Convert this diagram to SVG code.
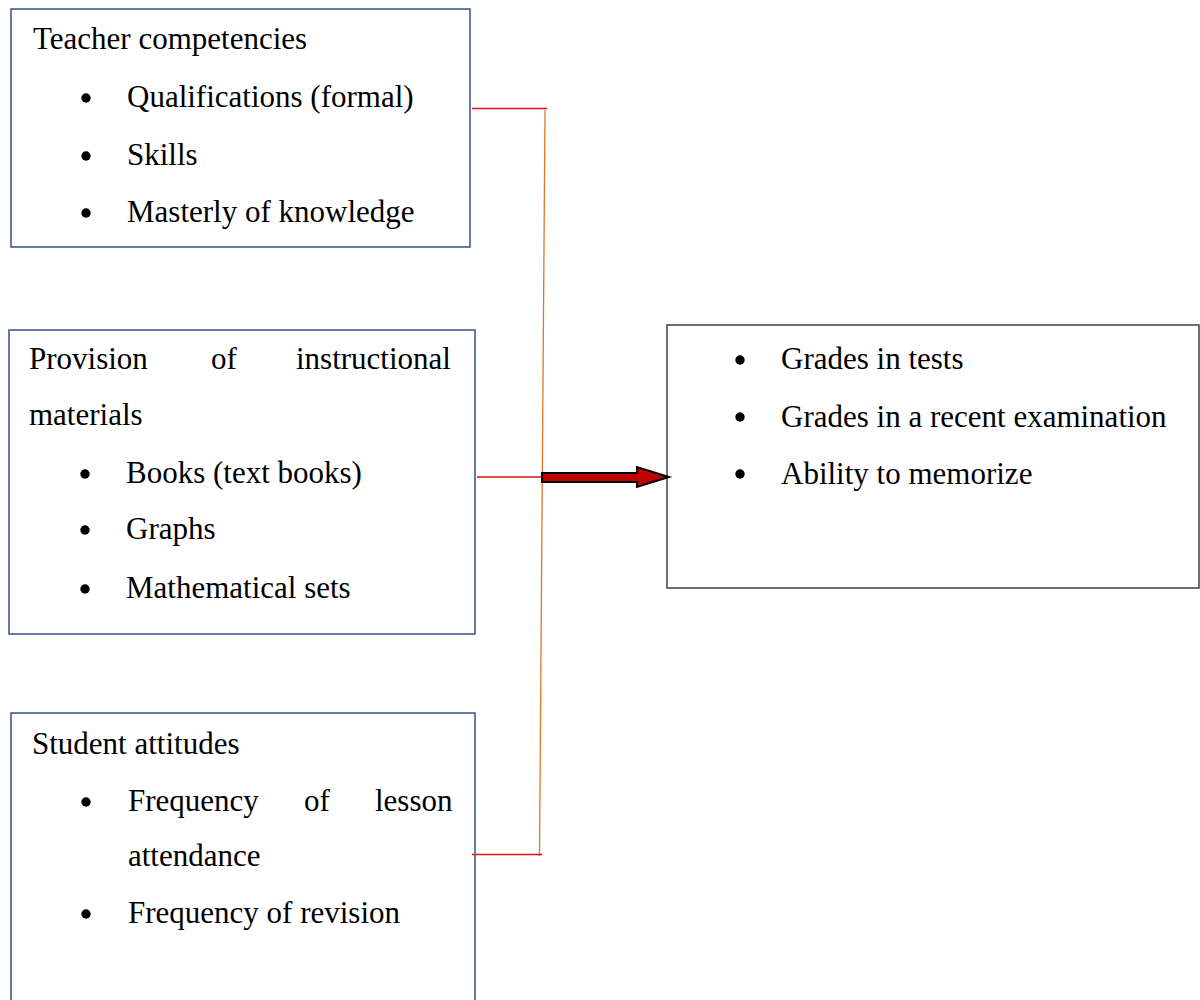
<svg xmlns="http://www.w3.org/2000/svg" width="1200" height="1000" viewBox="0 0 1200 1000">
<style>
  .box { fill: #ffffff; stroke: #34508a; stroke-width: 1.5; }
  .box2 { fill: #ffffff; stroke: #404040; stroke-width: 1.5; }
  text { font-family: "Liberation Serif", "Times New Roman", serif; font-size: 31px; fill: #000000; }
  .dot { fill: #000000; }
  .red { stroke: #e01010; stroke-width: 1.6; fill: none; }
  .org { stroke: #e0762a; stroke-width: 1.3; fill: none; }
</style>
<rect width="1200" height="1000" fill="#ffffff"/>

<g id="node-teacher">
  <rect class="box" x="11" y="9" width="459" height="238"/>
  <text x="33" y="49">Teacher competencies</text>
  <circle class="dot" cx="86" cy="98" r="4.7"/>
  <text x="127" y="107">Qualifications (formal)</text>
  <circle class="dot" cx="86" cy="156" r="4.7"/>
  <text x="127" y="165">Skills</text>
  <circle class="dot" cx="86" cy="213" r="4.7"/>
  <text x="127" y="222">Masterly of knowledge</text>
</g>

<g id="node-materials">
  <rect class="box" x="9" y="330" width="466" height="304"/>
  <text x="29" y="369">Provision</text>
  <text x="211" y="369">of</text>
  <text x="296" y="369">instructional</text>
  <text x="29" y="425">materials</text>
  <circle class="dot" cx="85" cy="474" r="4.7"/>
  <text x="126" y="483">Books (text books)</text>
  <circle class="dot" cx="85" cy="530" r="4.7"/>
  <text x="126" y="539">Graphs</text>
  <circle class="dot" cx="85" cy="589" r="4.7"/>
  <text x="126" y="598">Mathematical sets</text>
</g>

<g id="node-student">
  <rect class="box" x="11" y="713" width="464" height="300"/>
  <text x="32" y="754">Student attitudes</text>
  <circle class="dot" cx="86" cy="802" r="4.7"/>
  <text x="128" y="811">Frequency</text>
  <text x="304" y="811">of</text>
  <text x="375" y="811">lesson</text>
  <text x="128" y="866">attendance</text>
  <circle class="dot" cx="86" cy="914" r="4.7"/>
  <text x="128" y="923">Frequency of revision</text>
</g>

<g id="node-outcomes">
  <rect class="box2" x="667" y="325" width="532" height="263"/>
  <circle class="dot" cx="740" cy="360" r="4.7"/>
  <text x="781" y="369">Grades in tests</text>
  <circle class="dot" cx="740" cy="417" r="4.7"/>
  <text x="781" y="427">Grades in a recent examination</text>
  <circle class="dot" cx="740" cy="474" r="4.7"/>
  <text x="781" y="484">Ability to memorize</text>
</g>

<g id="connectors">
  <line class="red" x1="472" y1="108.5" x2="547" y2="108.5"/>
  <line class="org" x1="545" y1="110" x2="539.5" y2="856"/>
  <line class="red" x1="477" y1="477" x2="542" y2="477"/>
  <line class="red" x1="472" y1="854.5" x2="542" y2="854.5"/>
  <path d="M542,473 L637,473 L637,467 L669,477 L637,487 L637,482 L542,482 Z" fill="#c00000" stroke="#000000" stroke-width="2" stroke-linejoin="miter"/>
</g>
</svg>
